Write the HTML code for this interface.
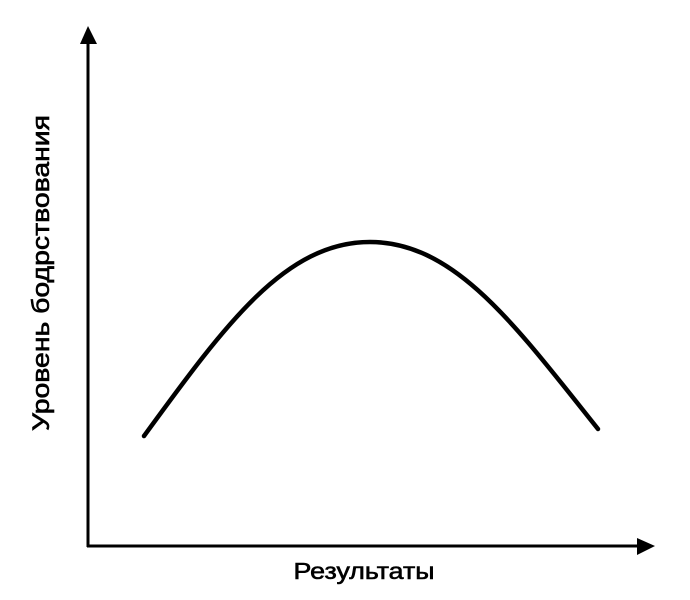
<!DOCTYPE html>
<html><head><meta charset="utf-8"><style>
html,body{margin:0;padding:0;background:#fff;}
svg{display:block;}
</style></head><body>
<svg width="690" height="600" viewBox="0 0 690 600" xmlns="http://www.w3.org/2000/svg">
<line x1="88" y1="40" x2="88" y2="547" stroke="#000" stroke-width="3"/>
<polygon points="88,26 80,44 97,44" fill="#000"/>
<line x1="87" y1="546" x2="640" y2="546" stroke="#000" stroke-width="3"/>
<polygon points="655,546 637,538 637,555" fill="#000"/>
<path d="M144,436 C225,325 285,242 370,242 C455,242 515,325 598,429" fill="none" stroke="#000" stroke-width="4.5" stroke-linecap="round"/>
<text x="364" y="579" font-family="Liberation Sans, sans-serif" font-size="23" text-anchor="middle" textLength="141" lengthAdjust="spacingAndGlyphs" stroke="#000" stroke-width="0.6">Результаты</text>
<text transform="translate(49,273) rotate(-90)" font-family="Liberation Sans, sans-serif" font-size="24" text-anchor="middle" textLength="316" lengthAdjust="spacingAndGlyphs" stroke="#000" stroke-width="0.6">Уровень бодрствования</text>
</svg>
</body></html>
